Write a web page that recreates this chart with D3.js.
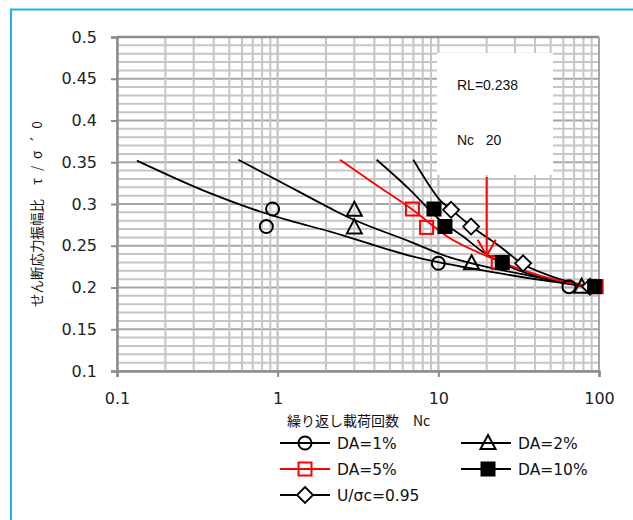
<!DOCTYPE html>
<html><head><meta charset="utf-8">
<script src="https://cdn.jsdelivr.net/npm/d3@7"></script>
<style>
html,body{margin:0;padding:0;background:#fff;}
svg{display:block;}
</style></head>
<body>
<svg id="c" width="633" height="520"></svg>
<script>
// ---- data ----
const xTicks = [0.1, 1, 10, 100];
const xTickLabels = ["0.1", "1", "10", "100"];
const yTicks = [0.1, 0.15, 0.2, 0.25, 0.3, 0.35, 0.4, 0.45, 0.5];
const yTickLabels = ["0.1", "0.15", "0.2", "0.25", "0.3", "0.35", "0.4", "0.45", "0.5"];

const seriesNames = ["DA=1%", "DA=2%", "DA=5%", "DA=10%", "U/σc=0.95"];

// measured points
const ptsDA1  = [[0.85, 0.273], [0.93, 0.294], [10.0, 0.229], [65, 0.201]];
const ptsDA2  = [[3.0, 0.293], [3.0, 0.272], [16.1, 0.229], [78, 0.201]];
const ptsDA5  = [[6.9, 0.294], [8.45, 0.272], [23.6, 0.230], [96, 0.201]];
const ptsDA10 = [[9.4, 0.294], [11.0, 0.273], [25.0, 0.230], [94, 0.201]];
const ptsU    = [[12.0, 0.293], [16.0, 0.273], [33.7, 0.229], [88, 0.201]];

// fitted curves (traced)
const curveDA1  = [[0.133, 0.352], [0.379, 0.313], [0.776, 0.291], [1.19, 0.280], [2.12, 0.267], [6.66, 0.238], [18.2, 0.221], [94, 0.200]];
const curveDA2  = [[0.569, 0.353], [1.03, 0.327], [2.12, 0.295], [2.69, 0.285], [6.66, 0.255], [11.8, 0.236], [16.1, 0.229], [37.2, 0.214], [94, 0.200]];
const curveDA5  = [[2.44, 0.353], [4.09, 0.323], [6.82, 0.294], [11.8, 0.259], [18.2, 0.241], [24.2, 0.231], [49.5, 0.211], [94, 0.200]];
const curveDA10 = [[4.13, 0.353], [6.66, 0.317], [10.2, 0.281], [14.3, 0.261], [18.2, 0.245], [25.0, 0.229], [49.5, 0.209], [94, 0.200]];
const curveU    = [[6.98, 0.353], [8.46, 0.327], [10.2, 0.305], [12.1, 0.293], [16.1, 0.273], [24.2, 0.249], [33.0, 0.229], [49.5, 0.214], [94, 0.200]];

const rlValue = 0.238;
const ncValue = 20;

// ---- chart ----
const svg = d3.select("#c");
const W = 633, H = 520;
const L = 117, R = 599, T = 37, B = 371;
const x = d3.scaleLog().domain([0.1, 100]).range([L, R]);
const y = d3.scaleLinear().domain([0.1, 0.5]).range([B, T]);

// outer frame (blue)
svg.append("rect").attr("x", 11).attr("y", 9.5).attr("width", W + 20).attr("height", H + 20)
  .attr("fill", "#fff").attr("stroke", "#1fb0ec").attr("stroke-width", 2);

// grid
const g = svg.append("g");
const minorY = d3.range(10, 51).map(v => v / 100);
minorY.forEach(v => {
  const major = Math.abs(v * 20 - Math.round(v * 20)) < 1e-9;
  g.append("line").attr("x1", L).attr("x2", R).attr("y1", y(v)).attr("y2", y(v))
    .attr("stroke", major ? "#a6a6a6" : "#c6c6c6").attr("stroke-width", 2);
});
const minorX = [];
[0.1, 1, 10].forEach(d => { for (let k = 1; k <= 10; k++) minorX.push(d * k); });
minorX.forEach(v => {
  g.append("line").attr("x1", x(v)).attr("x2", x(v)).attr("y1", T).attr("y2", B)
    .attr("stroke", "#c6c6c6").attr("stroke-width", 2);
});
// plot border top/right
g.append("line").attr("x1", L).attr("x2", R).attr("y1", T).attr("y2", T).attr("stroke", "#8c8c8c").attr("stroke-width", 2.5);
g.append("line").attr("x1", R).attr("x2", R).attr("y1", T).attr("y2", B).attr("stroke", "#a6a6a6").attr("stroke-width", 2);

// axes
const yAxis = d3.axisLeft(y).tickValues(yTicks).tickFormat((d, i) => yTickLabels[i]).tickSize(6).tickPadding(14);
const xAxis = d3.axisBottom(x).tickValues(xTicks).tickFormat((d, i) => xTickLabels[i]).tickSize(6).tickPadding(16);
const ya = svg.append("g").attr("transform", `translate(${L},0)`).call(yAxis);
const xa = svg.append("g").attr("transform", `translate(0,${B})`).call(xAxis);
[ya, xa].forEach(a => {
  a.select(".domain").attr("stroke", "#8c8c8c").attr("stroke-width", 2.5);
  a.selectAll(".tick line").attr("stroke", "#8c8c8c").attr("stroke-width", 2);
  a.selectAll(".tick text").attr("fill", "#222").attr("font-family", "DejaVu Sans, sans-serif").attr("font-size", 16);
});

// text box (white)
svg.append("rect").attr("x", 437).attr("y", 53).attr("width", 116).attr("height", 122).attr("fill", "#fff");
svg.append("text").attr("x", 457).attr("y", 90).attr("font-family", "Liberation Sans, Arial, sans-serif")
  .attr("font-size", 14).attr("fill", "#111").text("RL=" + rlValue);
svg.append("text").attr("x", 457).attr("y", 145).attr("font-family", "Liberation Sans, Arial, sans-serif")
  .attr("font-size", 14).attr("fill", "#111").attr("xml:space", "preserve").text("Nc   " + ncValue);

// curves
const line = d3.line().x(d => x(d[0])).y(d => y(d[1])).curve(d3.curveMonotoneX);
const curves = [
  { data: curveDA1, color: "#000" },
  { data: curveDA2, color: "#000" },
  { data: curveDA10, color: "#000" },
  { data: curveU, color: "#000" },
  { data: curveDA5, color: "#f00" },
];
curves.forEach(c => {
  svg.append("path").attr("d", line(c.data)).attr("fill", "none").attr("stroke", c.color).attr("stroke-width", 1.8);
});

// arrow
const ax = x(ncValue), ay = y(rlValue);
const arr = svg.append("g").attr("stroke", "#f00").attr("stroke-width", 2).attr("fill", "none");
arr.append("line").attr("x1", ax).attr("x2", ax).attr("y1", 177).attr("y2", ay);
arr.append("path").attr("d", `M${ax - 9},${ay - 16} L${ax},${ay} L${ax + 9},${ay - 16}`);

// markers
function marker(sel, type, cx, cy, color) {
  const s = 6.5;
  if (type === "circle") {
    sel.append("ellipse").attr("cx", cx).attr("cy", cy).attr("rx", s).attr("ry", s)
      .attr("fill", "none").attr("stroke", color).attr("stroke-width", 2);
  } else if (type === "triangle") {
    sel.append("path").attr("d", `M${cx},${cy - 8} L${cx + 7.5},${cy + 6} L${cx - 7.5},${cy + 6} Z`)
      .attr("fill", "none").attr("stroke", color).attr("stroke-width", 2);
  } else if (type === "square") {
    sel.append("rect").attr("x", cx - 6.5).attr("y", cy - 6.5).attr("width", 13).attr("height", 13)
      .attr("fill", "none").attr("stroke", color).attr("stroke-width", 2);
  } else if (type === "fsquare") {
    sel.append("rect").attr("x", cx - 7).attr("y", cy - 7).attr("width", 14).attr("height", 14)
      .attr("fill", color).attr("stroke", color).attr("stroke-width", 1);
  } else if (type === "diamond") {
    sel.append("path").attr("d", `M${cx},${cy - 8} L${cx + 8},${cy} L${cx},${cy + 8} L${cx - 8},${cy} Z`)
      .attr("fill", "#fff").attr("stroke", color).attr("stroke-width", 1.8);
  }
}
const seriesDefs = [
  { pts: ptsDA1, type: "circle", color: "#000" },
  { pts: ptsDA2, type: "triangle", color: "#000" },
  { pts: ptsU, type: "diamond", color: "#000" },
  { pts: ptsDA5, type: "square", color: "#f00" },
  { pts: ptsDA10, type: "fsquare", color: "#000" },
];
const mg = svg.append("g");
seriesDefs.forEach(s => s.pts.forEach(p => marker(mg, s.type, x(p[0]), y(p[1]), s.color)));

// axis titles
svg.append("text").attr("x", 287).attr("y", 426).attr("font-family", "Noto Sans CJK JP, sans-serif")
  .attr("font-size", 14).attr("fill", "#111").attr("xml:space", "preserve").text("繰り返し載荷回数　Nc");
const yt = svg.append("text").attr("transform", "translate(42,307) rotate(-90)")
  .attr("font-family", "Noto Sans CJK JP, sans-serif").attr("font-size", 13.5).attr("fill", "#111");
yt.append("tspan").text("せん断応力振幅比");
yt.append("tspan").attr("dx", 14).attr("letter-spacing", 7).text("τ/σ´0");

// legend
const legendItems = [
  { name: seriesNames[0], type: "circle", color: "#000", col: 0, row: 0 },
  { name: seriesNames[1], type: "triangle", color: "#000", col: 1, row: 0 },
  { name: seriesNames[2], type: "square", color: "#f00", col: 0, row: 1 },
  { name: seriesNames[3], type: "fsquare", color: "#000", col: 1, row: 1 },
  { name: seriesNames[4], type: "diamond", color: "#000", col: 0, row: 2 },
];
const lg = svg.append("g");
legendItems.forEach(it => {
  const x0 = it.col === 0 ? 280 : 461, cyy = 443 + it.row * 26;
  const mx = it.col === 0 ? 305 : 488;
  lg.append("line").attr("x1", x0).attr("x2", x0 + 50).attr("y1", cyy).attr("y2", cyy)
    .attr("stroke", it.color).attr("stroke-width", 2);
  marker(lg, it.type, mx, cyy, it.color);
  lg.append("text").attr("x", x0 + 57).attr("y", cyy + 6).attr("font-family", "DejaVu Sans, sans-serif")
    .attr("font-size", 15.5).attr("fill", "#111").text(it.name);
});
</script>
</body></html>
